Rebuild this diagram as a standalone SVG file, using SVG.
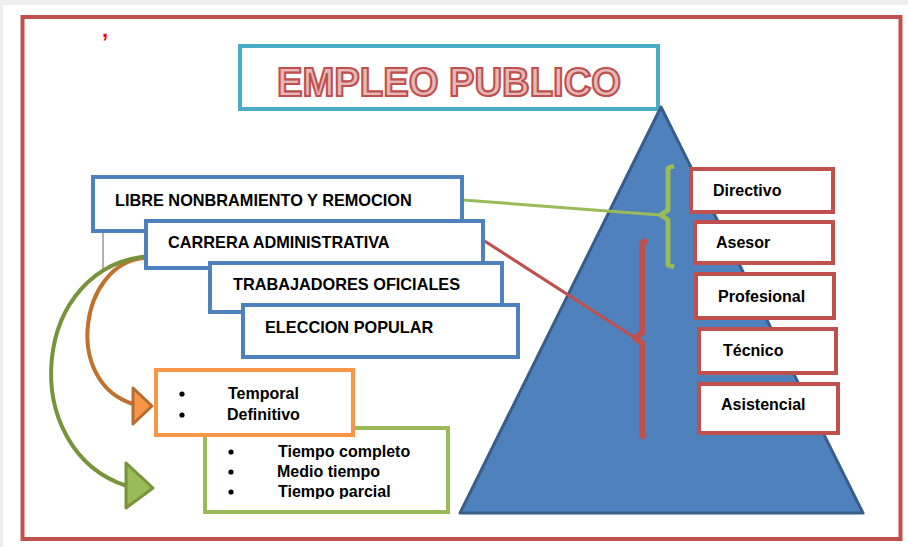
<svg xmlns="http://www.w3.org/2000/svg" width="908" height="547" viewBox="0 0 908 547">
<style>
text{font-family:"Liberation Sans",Arial,sans-serif;font-weight:bold;fill:#000}
.blue{fill:#fff;stroke:#4F81BD;stroke-width:4}
.lvl{fill:#fff;stroke:#C0504D;stroke-width:4}
.bt{font-size:16.3px}
.lt{font-size:16px}
.it{font-size:16px}
</style>
<defs>
<clipPath id="gclip"><rect x="206" y="430" width="240" height="69"/></clipPath>
</defs>
<rect x="0" y="0" width="908" height="547" fill="#eeeeee"/>
<rect x="3" y="5" width="905" height="542" fill="#ffffff"/>
<rect x="22.5" y="17" width="878" height="522" fill="none" stroke="#C0504D" stroke-width="4"/>
<text x="102" y="37" style="fill:#ff0000;font-size:22px">,</text>

<g id="title">
<rect x="240" y="46" width="418" height="63" fill="#fff" stroke="#4BACC6" stroke-width="4"/>
<text x="277" y="96" textLength="344" lengthAdjust="spacingAndGlyphs" style="font-size:41px;fill:#E6B9B8;stroke:#C0504D;stroke-width:2.2">EMPLEO PUBLICO</text>
</g>

<g id="pyramid">
<polygon points="661,107 863,513 460,513" fill="#4F81BD" stroke="#385D8A" stroke-width="3" stroke-linejoin="round"/>
</g>

<g id="connectors">
<line x1="103" y1="233" x2="103" y2="271" stroke="#7f7f7f" stroke-width="1.2"/>
<path d="M145,258 C80,262 62,382 133,404" fill="none" stroke="#C0712E" stroke-width="4"/>
<polygon points="133,388 152,406 133,424" fill="#F79646" stroke="#B66D31" stroke-width="3" stroke-linejoin="round"/>
<path d="M152,256 C30,262 15,450 127,486" fill="none" stroke="#77933C" stroke-width="4"/>
<polygon points="126,463 153,488 126,508" fill="#9BBB59" stroke="#77933C" stroke-width="3" stroke-linejoin="round"/>
<line x1="463" y1="200" x2="660" y2="215" stroke="#9BBB59" stroke-width="3"/>
<path d="M674,166 L668,168 L668,210 L661,215 L668,220 L668,265 L674,267" fill="none" stroke="#9BBB59" stroke-width="5" stroke-linejoin="round"/>
<line x1="483" y1="240" x2="635" y2="338" stroke="#C0504D" stroke-width="3"/>
<path d="M647,240 L642,243 L642,333 L635,338 L642,343 L642,435 L645,438" fill="none" stroke="#C0504D" stroke-width="6" stroke-linejoin="round"/>
</g>

<g id="libre">
<rect class="blue" x="93" y="177" width="369" height="54"/>
<text class="bt" x="115" y="206">LIBRE NONBRAMIENTO Y REMOCION</text>
</g>
<g id="carrera">
<rect class="blue" x="146" y="221" width="337" height="47"/>
<text class="bt" x="168" y="248">CARRERA ADMINISTRATIVA</text>
</g>
<g id="trabajadores">
<rect class="blue" x="210" y="263" width="292" height="49"/>
<text class="bt" x="233" y="290">TRABAJADORES OFICIALES</text>
</g>
<g id="eleccion">
<rect class="blue" x="243" y="305" width="275" height="52"/>
<text class="bt" x="265" y="333">ELECCION POPULAR</text>
</g>

<g id="tiempo">
<rect x="205" y="428" width="243" height="84" fill="#fff" stroke="#9BBB59" stroke-width="4"/>
<g clip-path="url(#gclip)">
<circle cx="231" cy="452" r="2.6"/><circle cx="231" cy="472" r="2.6"/><circle cx="231" cy="492" r="2.6"/>
<text class="it" x="278" y="457">Tiempo completo</text>
<text class="it" x="277" y="477">Medio tiempo</text>
<text class="it" x="278" y="497">Tiempo parcial</text>
</g>
</g>

<g id="temporal">
<rect x="156" y="370" width="197" height="65" fill="#fff" stroke="#F79646" stroke-width="4"/>
<circle cx="182" cy="394" r="2.6"/><circle cx="182" cy="415" r="2.6"/>
<text class="it" x="228" y="399">Temporal</text>
<text class="it" x="227" y="420">Definitivo</text>
</g>

<g id="directivo">
<rect class="lvl" x="691" y="169" width="142" height="43"/>
<text class="lt" x="713" y="196">Directivo</text>
</g>
<g id="asesor">
<rect class="lvl" x="695" y="222" width="138" height="41"/>
<text class="lt" x="716" y="248">Asesor</text>
</g>
<g id="profesional">
<rect class="lvl" x="696" y="274" width="138" height="44"/>
<text class="lt" x="718" y="302">Profesional</text>
</g>
<g id="tecnico">
<rect class="lvl" x="699" y="329" width="137" height="44"/>
<text class="lt" x="723" y="356">Técnico</text>
</g>
<g id="asistencial">
<rect class="lvl" x="699" y="384" width="139" height="49"/>
<text class="lt" x="721" y="410">Asistencial</text>
</g>
</svg>
